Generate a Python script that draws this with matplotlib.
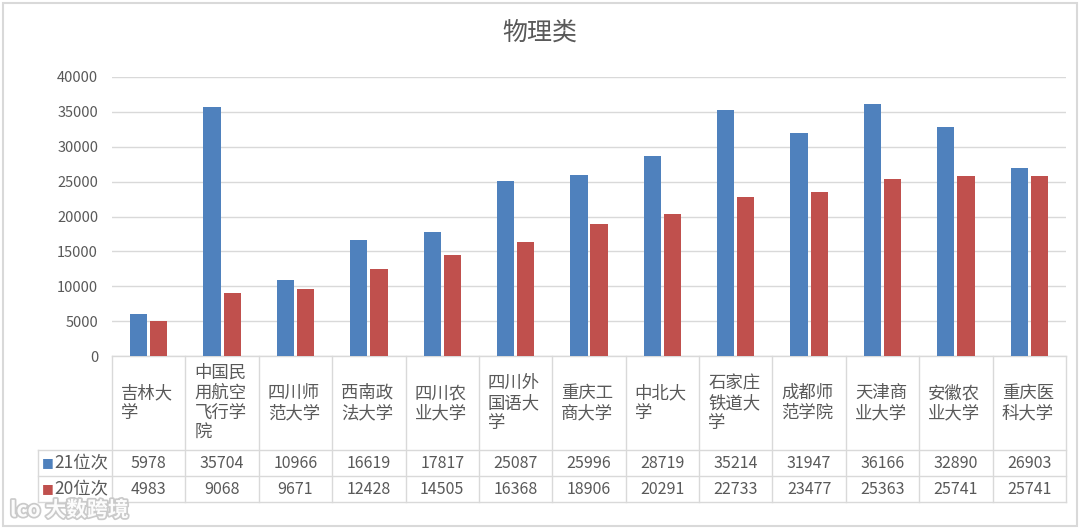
import matplotlib.pyplot as plt
import matplotlib.transforms as mtransforms
import matplotlib.patheffects as pe
import numpy as np

plt.rcParams['font.family'] = ['Noto Sans CJK SC', 'DejaVu Sans']

# 数据
schools = ["吉林大学", "中国民用航空飞行学院", "四川师范大学", "西南政法大学", "四川农业大学",
           "四川外国语大学", "重庆工商大学", "中北大学", "石家庄铁道大学", "成都师范学院",
           "天津商业大学", "安徽农业大学", "重庆医科大学"]
rank21 = [5978, 35704, 10966, 16619, 17817, 25087, 25996, 28719, 35214, 31947, 36166, 32890, 26903]
rank20 = [4983, 9068, 9671, 12428, 14505, 16368, 18906, 20291, 22733, 23477, 25363, 25741, 25741]
series_names = ["21位次", "20位次"]
yticks = [0, 5000, 10000, 15000, 20000, 25000, 30000, 35000, 40000]

blue = "#4F81BD"
red = "#C0504D"
grid_c = "#D9D9D9"
text_c = "#595959"

fig = plt.figure(figsize=(10.8, 5.29), dpi=100)
W, H = 1080, 529
ax = fig.add_axes([112 / W, 1 - 356 / H, (1066 - 112) / W, (356 - 77) / H])

x = np.arange(len(schools))
bw = 0.235
ax.bar(x - bw / 2 - 0.02, rank21, bw, color=blue, zorder=3)
ax.bar(x + bw / 2 + 0.02, rank20, bw, color=red, zorder=3)

ax.set_xlim(-0.5, len(schools) - 0.5)
ax.set_ylim(0, 40000)
ax.set_yticks(yticks)
ax.set_yticklabels([str(v) for v in yticks], color=text_c, fontsize=10.5)
ax.tick_params(axis='y', length=0, pad=10)
ax.set_xticks([])
ax.grid(axis='y', color=grid_c, linewidth=1, zorder=0)
for s in ax.spines.values():
    s.set_visible(False)

fig.text(0.5, 1 - 33 / H, "物理类", ha='center', va='center', fontsize=18, color=text_c,
         fontweight='light')

# 数据表
tr = mtransforms.blended_transform_factory(ax.transData, ax.transAxes)
ph = 356 - 77
y0 = 0
y1 = -(450 - 356) / ph
y2 = -(476 - 356) / ph
y3 = -(502 - 356) / ph
xl = -0.5 - (112 - 38) / 73.4
xr = len(schools) - 0.5
lk = dict(color=grid_c, linewidth=1, transform=tr, clip_on=False)

ax.plot([-0.5, xr], [y0, y0], **lk)
ax.plot([xl, xr], [y1, y1], **lk)
ax.plot([xl, xr], [y2, y2], **lk)
ax.plot([xl, xr], [y3, y3], **lk)
ax.plot([xl, xl], [y1, y3], **lk)
for i in range(len(schools) + 1):
    ax.plot([i - 0.5, i - 0.5], [y0, y3], **lk)

for i, name in enumerate(schools):
    lines = [name[j:j + 3] for j in range(0, len(name), 3)]
    ax.text(i - 0.5 + 9 / 73.4, (y0 + y1) / 2, "\n".join(lines), transform=tr,
            ha='left', va='center', fontsize=12.5, color=text_c, linespacing=1.15)
    ax.text(i, (y1 + y2) / 2, str(rank21[i]), transform=tr, ha='center', va='center',
            fontsize=11.5, color=text_c)
    ax.text(i, (y2 + y3) / 2, str(rank20[i]), transform=tr, ha='center', va='center',
            fontsize=11.5, color=text_c)

for yy, name, c in [((y1 + y2) / 2, series_names[0], blue), ((y2 + y3) / 2, series_names[1], red)]:
    ax.text(xl + 4 / 73.4, yy, "■", transform=tr, ha='left', va='center', fontsize=9, color=c,
            family='DejaVu Sans')
    ax.text(xl + 16 / 73.4, yy, name, transform=tr, ha='left', va='center', fontsize=12.5,
            color=text_c)

# 水印
fig.text(10 / W, 1 - 510 / H, "lco 大数跨境", fontsize=15, color="white", va='center',
         fontweight='bold', alpha=0.95,
         path_effects=[pe.withStroke(linewidth=2.5, foreground="#C8C8C8")])

# 外框
fig.patches.append(plt.Rectangle((3 / W, 3 / H), 1 - 6 / W, 1 - 6 / H, transform=fig.transFigure,
                                 fill=False, edgecolor="#D9D9D9", linewidth=1.5))

fig.savefig("out.png", dpi=100, facecolor="white")
